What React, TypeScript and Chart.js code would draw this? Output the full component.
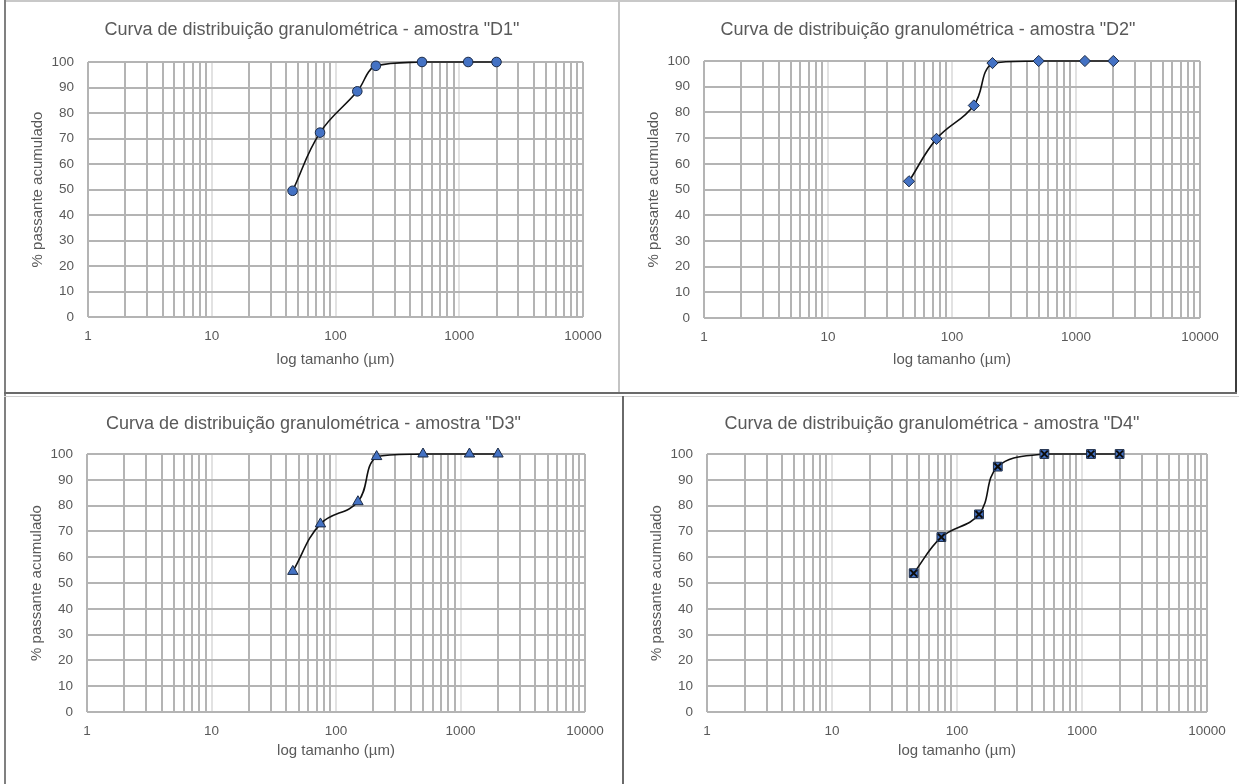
import React, { useEffect, useRef } from 'react';
import { Chart, registerables } from 'chart.js';

Chart.register(...registerables);

// ---- data ----
const sizes = [45, 75, 150, 212, 500, 1180, 2000];
const d1 = [49.5, 72.3, 88.5, 98.5, 100, 100, 100];
const d2 = [53.2, 69.7, 82.7, 99.2, 100, 100, 100];
const d3 = [54.5, 72.9, 81.5, 99.0, 100, 100, 100];
const d4 = [53.8, 67.8, 76.6, 95.1, 100, 100, 100];
const xTickLabels = [1, 10, 100, 1000, 10000];
const decades = [1, 10, 100, 1000];
const yMin = 0;
const yMax = 100;
const yStep = 10;

const titles = [
  'Curva de distribuição granulométrica - amostra "D1"',
  'Curva de distribuição granulométrica - amostra "D2"',
  'Curva de distribuição granulométrica - amostra "D3"',
  'Curva de distribuição granulométrica - amostra "D4"',
];
const xTitle = 'log tamanho (µm)';
const yTitle = '% passante acumulado';

const gridValues: number[] = [];
decades.forEach((d) => {
  for (let m = 1; m <= 9; m++) gridValues.push(d * m);
});
gridValues.push(10000);

const FONT = "'Liberation Sans', Arial, sans-serif";
const TEXT = '#595959';
const GRID = '#b4b4b4';
const GRID_MAJOR = '#e2e2e2';
const BLUE = '#4472C4';

type Box = { x: number; y: number; w: number; h: number };
type PlotBox = { l: number; r: number; t: number; b: number };

interface PanelProps {
  canvasBox: Box;
  plot: PlotBox;
  titleCenterY: number; // page coords
  xTitleCenterY: number;
  title: string;
  values: number[];
  marker: 'circle' | 'rectRot' | 'triangle' | 'rectX';
}

function Panel(props: PanelProps) {
  const ref = useRef<HTMLCanvasElement | null>(null);
  useEffect(() => {
    const { canvasBox, plot, titleCenterY, xTitleCenterY, title, values, marker } = props;
    const yAxisW = plot.l - canvasBox.x;
    const rightPad = canvasBox.x + canvasBox.w - plot.r;
    const plotTopC = plot.t - canvasBox.y;
    const xAxisH = canvasBox.y + canvasBox.h - plot.b;
    const titleSize = 18;
    const titleLH = titleSize * 1.2;
    const tCenter = titleCenterY - canvasBox.y;
    const tPadTop = tCenter - titleLH / 2;
    const tPadBottom = plotTopC - titleLH - tPadTop;
    const axisTitleSize = 15;
    const axisLH = axisTitleSize * 1.2;
    const yTitlePadTop = yAxisW - 50 - axisLH / 2;
    const xTitlePadBottom = canvasBox.y + canvasBox.h - axisLH / 2 - xTitleCenterY;

    const pts = sizes.map((x, i) => ({ x, y: values[i] }));
    const datasets: any[] = [];
    const baseStyle = marker === 'rectX' ? 'rect' : marker;
    const radius = marker === 'circle' ? 4.8 : marker === 'rectRot' ? 5.6 : marker === 'triangle' ? 6 : 6.2;
    datasets.push({
      data: pts,
      order: 1,
      clip: false,
      borderColor: '#111111',
      borderWidth: 1.6,
      tension: 0.4,
      pointStyle: baseStyle,
      pointRadius: radius,
      pointBackgroundColor: BLUE,
      pointBorderColor: '#1b2a45',
      pointBorderWidth: 1,
    });
    if (marker === 'rectX') {
      datasets.push({
        data: pts,
        order: 0,
        clip: false,
        showLine: false,
        pointStyle: 'crossRot',
        pointRadius: 4.8,
        pointBorderColor: '#0d0d0d',
        pointBorderWidth: 2,
        pointBackgroundColor: '#0d0d0d',
      });
    }

    const tickFont = { family: FONT, size: 13.5 };
    const axisFont = { family: FONT, size: axisTitleSize };

    const chart = new Chart(ref.current as HTMLCanvasElement, {
      type: 'line',
      data: { datasets },
      options: {
        animation: false,
        responsive: false,
        devicePixelRatio: 1,
        events: [],
        layout: { padding: 0 },
        plugins: {
          legend: { display: false },
          tooltip: { enabled: false },
          title: {
            display: true,
            text: title,
            color: TEXT,
            font: { family: FONT, size: titleSize, weight: 'normal' as any },
            padding: { top: tPadTop, bottom: tPadBottom },
          },
        },
        scales: {
          x: {
            type: 'logarithmic',
            min: 1,
            max: 10000,
            afterBuildTicks: (s: any) => {
              s.ticks = gridValues.map((v) => ({ value: v }));
            },
            afterFit: (s: any) => {
              s.height = xAxisH;
            },
            ticks: {
              autoSkip: false,
              maxRotation: 0,
              minRotation: 0,
              padding: 11,
              color: TEXT,
              font: tickFont,
              callback: (v: any) => (xTickLabels.includes(Number(v)) ? String(v) : ''),
            },
            grid: {
              drawTicks: false,
              lineWidth: 2,
              color: (ctx: any) => {
                const v = ctx.tick ? ctx.tick.value : 0;
                return v === 10 || v === 100 || v === 1000 ? GRID_MAJOR : GRID;
              },
            },
            border: { display: false },
            title: {
              display: true,
              text: xTitle,
              color: TEXT,
              font: axisFont,
              padding: { top: 0, bottom: xTitlePadBottom },
            },
          },
          y: {
            min: yMin,
            max: yMax,
            afterFit: (s: any) => {
              s.width = yAxisW;
            },
            ticks: {
              stepSize: yStep,
              padding: 14,
              color: TEXT,
              font: tickFont,
            },
            grid: { drawTicks: false, lineWidth: 2, color: GRID },
            border: { display: false },
            title: {
              display: true,
              text: yTitle,
              color: TEXT,
              font: axisFont,
              padding: { top: yTitlePadTop, bottom: 0 },
            },
          },
          ySpacer: {
            type: 'linear',
            position: 'right',
            display: true,
            min: yMin,
            max: yMax,
            afterFit: (s: any) => {
              s.width = rightPad;
            },
            ticks: { display: false },
            grid: { display: false, drawTicks: false },
            border: { display: false },
          },
        },
      } as any,
    });
    return () => chart.destroy();
  }, []);
  const { canvasBox } = props;
  return (
    <canvas
      ref={ref}
      width={canvasBox.w}
      height={canvasBox.h}
      style={{ position: 'absolute', left: canvasBox.x, top: canvasBox.y, width: canvasBox.w, height: canvasBox.h }}
    />
  );
}

const panels: PanelProps[] = [
  {
    canvasBox: { x: 6, y: 3, w: 612, h: 389 },
    plot: { l: 88, r: 583, t: 62, b: 317 },
    titleCenterY: 30,
    xTitleCenterY: 360,
    title: titles[0],
    values: d1,
    marker: 'circle',
  },
  {
    canvasBox: { x: 622, y: 3, w: 612, h: 389 },
    plot: { l: 704, r: 1200, t: 61, b: 318 },
    titleCenterY: 30,
    xTitleCenterY: 360,
    title: titles[1],
    values: d2,
    marker: 'rectRot',
  },
  {
    canvasBox: { x: 6, y: 399, w: 615, h: 385 },
    plot: { l: 87, r: 585, t: 454, b: 712 },
    titleCenterY: 424,
    xTitleCenterY: 751,
    title: titles[2],
    values: d3,
    marker: 'triangle',
  },
  {
    canvasBox: { x: 625, y: 399, w: 614, h: 385 },
    plot: { l: 707, r: 1207, t: 454, b: 712 },
    titleCenterY: 424,
    xTitleCenterY: 751,
    title: titles[3],
    values: d4,
    marker: 'rectX',
  },
];

function Line(p: { x: number; y: number; w: number; h: number; c: string }) {
  return <div style={{ position: 'absolute', left: p.x, top: p.y, width: p.w, height: p.h, background: p.c }} />;
}

export default function App() {
  return (
    <div style={{ position: 'absolute', left: 0, top: 0, width: 1239, height: 784, background: '#fff', overflow: 'hidden' }}>
      {panels.map((p, i) => (
        <Panel key={i} {...p} />
      ))}
      {/* panel frames */}
      <Line x={4} y={0} w={1233} h={2} c="#c8c8c8" />
      <Line x={4} y={0} w={2} h={784} c="#808080" />
      <Line x={618} y={0} w={2} h={393} c="#c4c4c4" />
      <Line x={1235} y={0} w={2} h={394} c="#3c3c3c" />
      <Line x={4} y={392} w={1233} h={2} c="#6a6a6a" />
      <Line x={4} y={396} w={1235} h={1} c="#d0d0d0" />
      <Line x={622} y={396} w={2} h={388} c="#6a6a6a" />
    </div>
  );
}
